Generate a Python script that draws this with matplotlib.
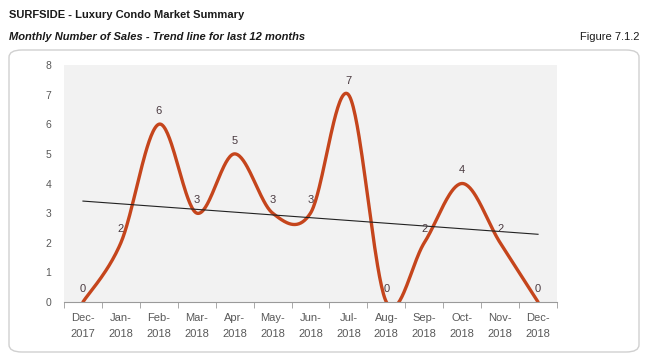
import numpy as np
import matplotlib.pyplot as plt
from matplotlib.patches import FancyBboxPatch

# data
months = ["Dec-\n2017", "Jan-\n2018", "Feb-\n2018", "Mar-\n2018", "Apr-\n2018", "May-\n2018",
          "Jun-\n2018", "Jul-\n2018", "Aug-\n2018", "Sep-\n2018", "Oct-\n2018", "Nov-\n2018", "Dec-\n2018"]
sales = [0, 2, 6, 3, 5, 3, 3, 7, 0, 2, 4, 2, 0]

LINE = "#c5451c"
TXT = "#595959"
NARROW = ["Liberation Sans Narrow", "Liberation Sans", "DejaVu Sans"]


# smoothed line like the spreadsheet's (bezier through the points)
def smooth(xs, ys, n=40):
    xs = np.asarray(xs, float)
    ys = np.asarray(ys, float)
    px = np.concatenate([[xs[0]], xs, [xs[-1]]])
    py = np.concatenate([[ys[0]], ys, [ys[-1]]])
    outx, outy = [], []
    t = np.linspace(0, 1, n)
    for i in range(1, len(px) - 2):
        p0 = np.array([px[i], py[i]])
        p3 = np.array([px[i + 1], py[i + 1]])
        p1 = p0 + (np.array([px[i + 1], py[i + 1]]) - np.array([px[i - 1], py[i - 1]])) / 6
        p2 = p3 - (np.array([px[i + 2], py[i + 2]]) - np.array([px[i], py[i]])) / 6
        b = ((1 - t) ** 3)[:, None] * p0 + (3 * (1 - t) ** 2 * t)[:, None] * p1 \
            + (3 * (1 - t) * t ** 2)[:, None] * p2 + (t ** 3)[:, None] * p3
        outx.extend(b[:, 0])
        outy.extend(b[:, 1])
    return np.array(outx), np.array(outy)


plt.rcParams['font.family'] = ['Liberation Sans', 'DejaVu Sans']
x = np.arange(len(months))
fig = plt.figure(figsize=(6.49, 3.62), dpi=100)

# rounded frame around the chart
box = FancyBboxPatch((9 / 649, 10 / 362), 630 / 649, 302 / 362,
                     boxstyle="round,pad=0,rounding_size=0.02", transform=fig.transFigure,
                     facecolor="white", edgecolor="#d0d0d0", linewidth=1, zorder=-5)
fig.patches.append(box)

ax = fig.add_axes([64 / 649, 60 / 362, 493 / 649, 237 / 362])
ax.set_zorder(2)
ax.set_facecolor("#f2f2f2")

sx, sy = smooth(x, sales)
ax.plot(sx, sy, color=LINE, linewidth=2.4, solid_capstyle="round")

slope, inter = np.polyfit(x, sales, 1)
ax.plot([x[0], x[-1]], [inter, inter + slope * x[-1]], color="#222222", linewidth=0.8)

for xi, yi in zip(x, sales):
    ax.annotate(str(yi), (xi, yi), xytext=(0, 6), textcoords="offset points",
                ha="center", va="bottom", fontsize=8, color="#4a3a40")

ax.set_xlim(-0.5, len(months) - 0.5)
ax.set_ylim(0, 8)
ax.set_yticks(range(0, 9))
ax.set_xticks(x)
ax.set_xticklabels(months, fontsize=8, color=TXT, linespacing=1.75)
ax.set_xticks(np.arange(-0.5, len(months)), minor=True)
ax.tick_params(axis="x", which="major", length=0, pad=8)
ax.tick_params(axis="x", which="minor", length=4, color="#9a9a9a")
ax.tick_params(axis="y", length=0, pad=9, labelsize=7.5, labelcolor=TXT)
for s in ["top", "right", "left"]:
    ax.spines[s].set_visible(False)
ax.spines["bottom"].set_color("#9a9a9a")

fig.text(9 / 649, 1 - 15 / 362, "SURFSIDE - Luxury Condo Market Summary", fontsize=8,
         fontweight="bold", va="center", color="#1a1a1a", family=NARROW)
fig.text(9 / 649, 1 - 37 / 362, "Monthly Number of Sales - Trend line for last 12 months", fontsize=8,
         fontweight="bold", style="italic", va="center", color="#1a1a1a", family=NARROW)
fig.text(640 / 649, 1 - 37 / 362, "Figure 7.1.2", fontsize=8, ha="right", va="center",
         color="#1a1a1a", family=NARROW)

fig.savefig("out.png", dpi=100)
